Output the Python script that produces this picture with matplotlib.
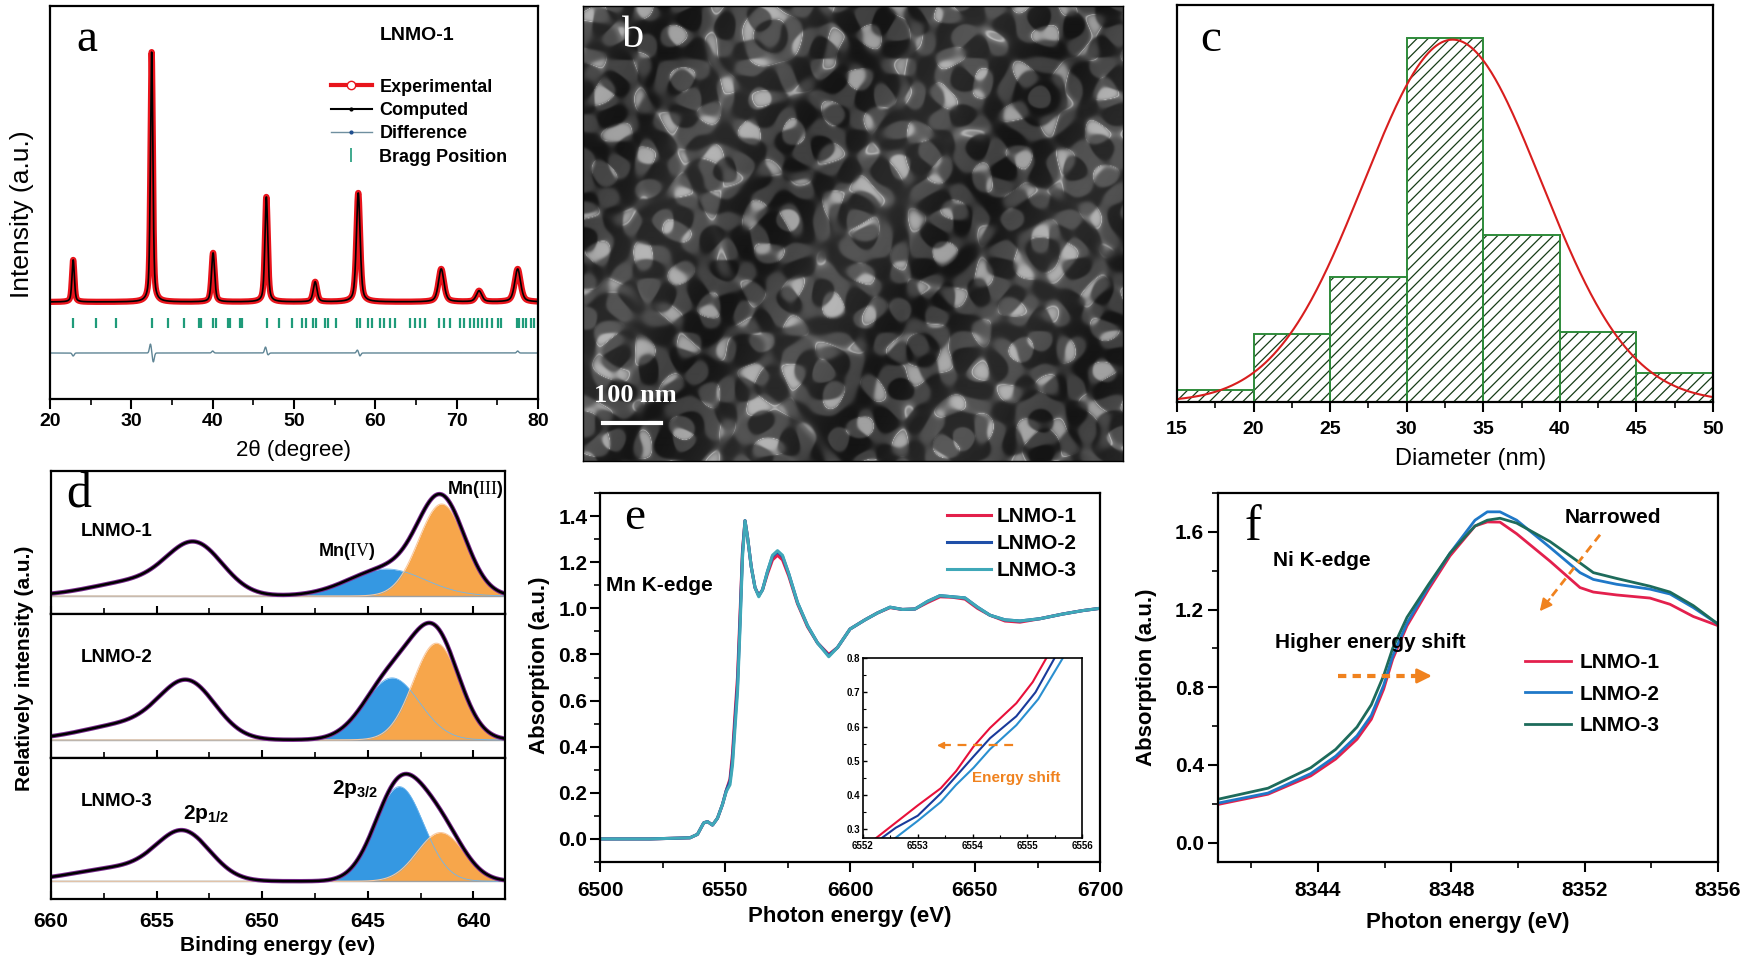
import numpy as np
import matplotlib
matplotlib.use("Agg")
import matplotlib.pyplot as plt
from matplotlib.lines import Line2D
from matplotlib.ticker import MultipleLocator, FormatStrFormatter

plt.rcParams['font.family'] = ['Liberation Sans', 'DejaVu Sans']
plt.rcParams['mathtext.fontset'] = 'custom'
plt.rcParams['mathtext.rm'] = 'Liberation Serif'
plt.rcParams['mathtext.bf'] = 'Liberation Sans:bold'
plt.rcParams['hatch.linewidth'] = 0.9
plt.rcParams['axes.linewidth'] = 1.6

# ---------------- data ----------------
# (a) XRD peaks: position (deg), height, fwhm
xrd_pos = [22.85, 32.5, 40.05, 46.6, 52.6, 57.9, 68.1, 72.75, 77.5]
xrd_height = [42, 250, 49, 105, 20, 109, 33, 11, 33]
xrd_fwhm = [0.35, 0.35, 0.45, 0.42, 0.55, 0.55, 0.8, 0.8, 0.85]
# difference curve features
diff_pos = [22.85, 32.35, 32.7, 40.0, 46.5, 46.8, 57.8, 58.1, 77.5]
diff_amp = [-3, 9, -9, 2, 6, -2, 3, -3, 2]
bragg_pos = [22.87, 25.61, 28.11, 32.49, 34.46, 36.5, 38.35, 38.55, 40.07, 40.39,
             41.91, 42.11, 43.34, 43.63, 46.62, 48.17, 49.77, 51.04, 51.45, 52.35,
             52.76, 53.78, 54.19, 55.22, 57.75, 58.17, 59.11, 59.64, 60.54, 61.03,
             61.85, 62.38, 64.31, 64.84, 65.54, 66.07, 67.83, 68.4, 69.14, 70.37,
             70.86, 71.6, 72.09, 72.62, 73.16, 73.72, 74.38, 75.07, 75.5, 77.4,
             77.7, 78.2, 78.5, 79.1, 79.5]

# (c) particle size histogram
bin_left = [15, 20, 25, 30, 35, 40, 45]
freq = [3.4, 18.7, 34.2, 100, 45.8, 19.2, 7.9]
fit_center, fit_sigma, fit_amp = 33.0, 5.8, 99.5

# (d) XPS Mn 2p components: (center eV, sigma, height)
xps_names = ['LNMO-1', 'LNMO-2', 'LNMO-3']
p12_main = [(653.15, 1.3, 47), (653.5, 1.3, 52), (653.7, 1.25, 45)]
p12_tail = [(655.8, 2.2, 15), (656.2, 2.2, 16), (656.5, 2.3, 14)]
mn4_peak = [(644.1, 1.8, 27), (643.85, 1.3, 61.6), (643.5, 1.15, 96)]
mn3_peak = [(641.5, 1.1, 92), (641.75, 1.1, 96), (641.55, 1.1, 49.4)]

# (e) Mn K-edge XANES
mn_E = [6500, 6520, 6536, 6539, 6541.5, 6543, 6545, 6547, 6549, 6550.5, 6552, 6553,
        6554, 6555, 6556, 6557, 6558, 6559, 6560.5, 6562, 6563.5, 6565, 6567, 6569,
        6571, 6573, 6575.5, 6579, 6583, 6587, 6591.5, 6595, 6600, 6606, 6611, 6616,
        6621, 6626, 6631, 6636, 6641, 6646, 6651, 6656, 6662, 6668, 6676, 6685, 6693, 6700]
mn_mu1 = [0.0, 0.0, 0.005, 0.02, 0.07, 0.075, 0.06, 0.09, 0.15, 0.21, 0.26, 0.37,
          0.54, 0.70, 0.97, 1.25, 1.38, 1.31, 1.18, 1.09, 1.055, 1.08, 1.15, 1.21,
          1.23, 1.21, 1.14, 1.02, 0.92, 0.85, 0.80, 0.83, 0.91, 0.95, 0.98, 1.003,
          0.995, 0.997, 1.025, 1.05, 1.048, 1.04, 1.0, 0.97, 0.945, 0.94, 0.955, 0.975, 0.99, 1.0]
mn_mu2 = [0.0, 0.0, 0.005, 0.02, 0.07, 0.075, 0.06, 0.09, 0.15, 0.21, 0.25, 0.345,
          0.51, 0.665, 0.94, 1.24, 1.38, 1.31, 1.18, 1.09, 1.055, 1.08, 1.16, 1.225,
          1.245, 1.225, 1.15, 1.025, 0.925, 0.85, 0.795, 0.83, 0.91, 0.95, 0.98, 1.005,
          0.995, 0.997, 1.03, 1.055, 1.05, 1.045, 1.005, 0.97, 0.95, 0.945, 0.955, 0.975, 0.99, 1.0]
mn_mu3 = [0.0, 0.0, 0.005, 0.02, 0.07, 0.075, 0.06, 0.09, 0.15, 0.205, 0.235, 0.32,
          0.48, 0.635, 0.91, 1.22, 1.38, 1.31, 1.18, 1.09, 1.05, 1.08, 1.16, 1.23,
          1.25, 1.23, 1.15, 1.025, 0.925, 0.85, 0.79, 0.83, 0.91, 0.95, 0.98, 1.005,
          0.995, 0.997, 1.03, 1.055, 1.05, 1.045, 1.005, 0.97, 0.95, 0.945, 0.955, 0.975, 0.99, 1.0]
# inset
ins_E1 = [6552.2, 6552.6, 6553.0, 6553.42, 6553.7, 6554.02, 6554.32, 6554.8, 6555.1, 6555.35]
ins_mu1 = [0.27, 0.32, 0.37, 0.42, 0.47, 0.542, 0.596, 0.668, 0.73, 0.80]
ins_E2 = [6552.3, 6552.6, 6553.0, 6553.42, 6553.7, 6554.02, 6554.32, 6554.8, 6555.15, 6555.5]
ins_mu2 = [0.27, 0.305, 0.34, 0.405, 0.455, 0.513, 0.566, 0.63, 0.70, 0.80]
ins_E3 = [6552.55, 6553.0, 6553.42, 6553.7, 6554.02, 6554.32, 6554.8, 6555.2, 6555.65]
ins_mu3 = [0.27, 0.325, 0.38, 0.43, 0.48, 0.534, 0.604, 0.68, 0.80]

# (f) Ni K-edge XANES
ni_E = [8341.05, 8342.5, 8343.78, 8344.53, 8345.17, 8345.6, 8345.97, 8346.24, 8346.67,
        8347.32, 8347.96, 8348.71, 8349.08, 8349.46, 8349.96, 8350.96, 8351.86, 8352.26,
        8352.96, 8353.96, 8354.56, 8355.26, 8356.0]
ni_mu1 = [0.198, 0.249, 0.343, 0.43, 0.532, 0.635, 0.79, 0.944, 1.116, 1.305, 1.476, 1.63,
          1.651, 1.65, 1.59, 1.449, 1.313, 1.29, 1.275, 1.259, 1.227, 1.164, 1.117]
ni_mu2 = [0.205, 0.255, 0.355, 0.445, 0.55, 0.655, 0.81, 0.96, 1.13, 1.32, 1.49, 1.66,
          1.703, 1.703, 1.66, 1.52, 1.39, 1.355, 1.33, 1.305, 1.28, 1.21, 1.125]
ni_mu3 = [0.225, 0.28, 0.385, 0.48, 0.595, 0.71, 0.86, 1.0, 1.16, 1.33, 1.49, 1.63,
          1.66, 1.67, 1.645, 1.55, 1.44, 1.39, 1.36, 1.32, 1.29, 1.22, 1.125]

labels = ['LNMO-1', 'LNMO-2', 'LNMO-3']
e_colors = ['#e3204b', '#1f4fa8', '#3fa8b8']
f_colors = ['#e3204d', '#1f78c8', '#1d6b5b']
orange = '#f0821e'

# ---------------- figure ----------------
W, H = 1750, 963
fig = plt.figure(figsize=(17.5, 9.63), dpi=100)


def box(x0, y0, x1, y1):
    return fig.add_axes([x0 / W, 1 - y1 / H, (x1 - x0) / W, (y1 - y0) / H])


def ftext(x, y, s, **kw):
    fig.text(x / W, 1 - y / H, s, **kw)


def gauss(x, c, s, h):
    return h * np.exp(-(x - c) ** 2 / (2 * s ** 2))


serif = 'Liberation Serif'

# ---------------- (a) XRD ----------------
ax_a = box(50, 6, 538, 399)
tt = np.linspace(20, 80, 4001)
calc = np.zeros_like(tt)
for p, h, w in zip(xrd_pos, xrd_height, xrd_fwhm):
    lor = 1 / (1 + (2 * (tt - p) / w) ** 2)
    gau = np.exp(-4 * np.log(2) * (tt - p) ** 2 / w ** 2)
    calc += h * (0.5 * lor + 0.5 * gau)
diff = np.full_like(tt, -51.0)
for p, a in zip(diff_pos, diff_amp):
    diff += gauss(tt, p, 0.12, a)
ax_a.plot(tt, calc, color='#e8141c', lw=4.5, solid_capstyle='round')
ax_a.plot(tt, calc, color='black', lw=1.2)
ax_a.plot(tt, diff, color='#5f8595', lw=1.0)
ax_a.vlines(bragg_pos, -26, -16, color='#1f9b7a', lw=1.6)
ax_a.set_xlim(20, 80)
ax_a.set_ylim(-97, 296)
ax_a.set_yticks([])
ax_a.xaxis.set_major_locator(MultipleLocator(10))
ax_a.xaxis.set_minor_locator(MultipleLocator(5))
ax_a.tick_params(axis='x', which='major', direction='out', length=7, width=1.5, labelsize=14, pad=3)
ax_a.tick_params(axis='x', which='minor', direction='out', length=4, width=1.2)
for t in ax_a.get_xticklabels():
    t.set_fontweight('bold')
ax_a.set_xlabel('2θ (degree)', fontsize=16)
ax_a.xaxis.set_label_coords(0.5, -0.105)
ax_a.set_ylabel('Intensity (a.u.)', fontsize=19)
ax_a.yaxis.set_label_coords(-0.032, 0.47)
handles = [Line2D([], [], color='#e8141c', lw=3, marker='o', ms=6, mfc='white', mec='#e8141c'),
           Line2D([], [], color='black', lw=1.5, marker='.', ms=4),
           Line2D([], [], color='#6f8f9f', lw=1.0, marker='.', ms=4, mec='#1f4f8f', mfc='#1f4f8f'),
           Line2D([], [], color='#1f9b7a', lw=0, marker='|', ms=10, mew=1.2)]
ax_a.legend(handles, ['Experimental', 'Computed', 'Difference', 'Bragg Position'],
            loc='upper left', bbox_to_anchor=(0.575, 0.815), frameon=False,
            prop={'weight': 'bold', 'size': 13}, handlelength=2.3, handletextpad=0.4,
            labelspacing=0.35, borderpad=0, borderaxespad=0)
ftext(76, 40, 'a', family=serif, fontsize=34, ha='left', va='center')
ftext(380, 35, 'LNMO-1', fontsize=14, weight='bold', ha='left', va='center')

# ---------------- (b) TEM micrograph stand-in texture ----------------
ax_b = box(583, 6, 1123, 461)
ny, nx = 455, 540
yy, xx = np.mgrid[0:ny, 0:nx].astype(float)
phases1 = [0.0, 1.1, 2.3, 0.7, 1.9, 2.8, 0.4]
phases2 = [2.1, 0.3, 1.6, 2.9, 0.9, 1.4, 2.5]
q1 = np.zeros_like(xx)
q2 = np.zeros_like(xx)
for k in range(7):
    a1 = k * np.pi / 7
    a2 = k * np.pi / 7 + 0.22
    q1 += np.cos(0.165 * (xx * np.cos(a1) + yy * np.sin(a1)) + phases1[k])
    q2 += np.cos(0.205 * (xx * np.cos(a2) + yy * np.sin(a2)) + phases2[k])
p1 = 1 / (1 + np.exp(-(q1 + 1.3) / 0.35))
p2 = 1 / (1 + np.exp(-(q2 + 0.3) / 0.35))
gap = (1 - p1) * (1 - p2)
img = 0.42 - 0.13 * p1 - 0.11 * p2 - 0.06 * p1 * p2 + 0.25 * gap
img += 0.2 * np.exp(-((q1 + 1.3) / 0.12) ** 2) * (1 - p2)
img += 0.04 * np.cos(xx * 0.031 + yy * 0.017)
img = np.clip(img, 0.06, 1)
ax_b.imshow(img, cmap='gray', vmin=0, vmax=1, aspect='auto', interpolation='bilinear')
ax_b.set_xticks([])
ax_b.set_yticks([])
for s in ax_b.spines.values():
    s.set_linewidth(1.0)
ax_b.plot([0.037, 0.144], [0.0835, 0.0835], color='white', lw=3, transform=ax_b.transAxes)
ftext(622, 36, 'b', family=serif, fontsize=32, color='white', ha='left', va='center')
ftext(594, 395, '100 nm', family=serif, fontsize=19, weight='bold', color='white', ha='left', va='center')

# ---------------- (c) histogram ----------------
ax_c = box(1177, 5, 1713, 402)
ax_c.bar(bin_left, freq, width=5, align='edge', facecolor='white', edgecolor='#173d17',
         hatch='///', lw=0)
ax_c.bar(bin_left, freq, width=5, align='edge', fill=False, edgecolor='#2e8b3a', lw=1.4)
xs = np.linspace(15, 50, 400)
ax_c.plot(xs, gauss(xs, fit_center, fit_sigma, fit_amp), color='#d81e1e', lw=1.5)
ax_c.set_xlim(15, 50)
ax_c.set_ylim(0, 109)
ax_c.set_yticks([])
ax_c.xaxis.set_major_locator(MultipleLocator(5))
ax_c.xaxis.set_minor_locator(MultipleLocator(2.5))
ax_c.tick_params(axis='x', which='major', direction='out', length=7, width=1.5, labelsize=14, pad=7)
ax_c.tick_params(axis='x', which='minor', direction='out', length=4, width=1.2)
for t in ax_c.get_xticklabels():
    t.set_fontweight('bold')
ax_c.set_xlabel('Diameter (nm)', fontsize=17)
ax_c.xaxis.set_label_coords(0.547, -0.115)
ftext(1200, 40, 'c', family=serif, fontsize=34, ha='left', va='center')

# ---------------- (d) XPS ----------------
sub_px = [(471, 614), (614, 758), (758, 899)]
be = np.linspace(638.4, 660, 800)
d_axes = []
for i, (y0, y1) in enumerate(sub_px):
    ax = box(51, y0, 505, y1)
    d_axes.append(ax)
    m12 = gauss(be, *p12_main[i]) + gauss(be, *p12_tail[i])
    c4 = gauss(be, *mn4_peak[i])
    c3 = gauss(be, *mn3_peak[i])
    env = m12 + c4 + c3
    ax.axhline(0, color='#a0a0a0', lw=1.0)
    ax.fill_between(be, 0, c4, color='#3598e2', lw=0)
    ax.plot(be, c4, color='#6fb6ee', lw=0.6)
    ax.fill_between(be, 0, c3, color='#f7a64b', lw=0)
    ax.plot(be, c3, color='#f9c9a0', lw=0.8)
    ax.plot(be, env, color='#7a2a8e', lw=3.2)
    ax.plot(be, env, color='black', lw=1.8)
    ax.set_xlim(660, 638.5)
    ax.set_ylim(-18, 125)
    ax.set_yticks([])
    ax.xaxis.set_major_locator(MultipleLocator(5))
    ax.xaxis.set_minor_locator(MultipleLocator(2.5))
    ax.tick_params(axis='x', which='major', direction='in', length=6, width=1.5, labelsize=15, pad=9)
    ax.tick_params(axis='x', which='minor', direction='in', length=4, width=1.2)
    if i < 2:
        ax.tick_params(axis='x', labelbottom=False)
    ax.text(658.6, [65, 82, 81][i], xps_names[i], fontsize=13.5, weight='bold', ha='left', va='center')
for t in d_axes[2].get_xticklabels():
    t.set_fontweight('bold')
d_axes[0].text(647.35, 44, r'Mn($\mathrm{IV}$)', fontsize=13, weight='bold', ha='left', va='center')
d_axes[0].text(638.6, 106, r'Mn($\mathrm{III}$)', fontsize=13, weight='bold', ha='right', va='center')
d_axes[2].text(653.75, 68, r'2p$_{\mathbf{1/2}}$', fontsize=15, weight='bold', ha='left', va='center')
d_axes[2].text(646.7, 94, r'2p$_{\mathbf{3/2}}$', fontsize=15, weight='bold', ha='left', va='center')
d_axes[2].set_xlabel('Binding energy (ev)', fontsize=15, weight='bold')
d_axes[2].xaxis.set_label_coords(0.5, -0.265)
d_axes[1].set_ylabel('Relatively intensity (a.u.)', fontsize=15, weight='bold')
d_axes[1].yaxis.set_label_coords(-0.037, 0.62)
ftext(66, 495, 'd', family=serif, fontsize=36, ha='left', va='center')

# ---------------- (e) Mn K-edge ----------------
ax_e = box(600, 493, 1100, 862)
for mu, c, lab in zip([mn_mu1, mn_mu2, mn_mu3], e_colors, labels):
    ax_e.plot(mn_E, mu, color=c, lw=2.2, label=lab)
ax_e.set_xlim(6500, 6700)
ax_e.set_ylim(-0.1, 1.5)
ax_e.xaxis.set_major_locator(MultipleLocator(50))
ax_e.xaxis.set_minor_locator(MultipleLocator(25))
ax_e.yaxis.set_major_locator(MultipleLocator(0.2))
ax_e.yaxis.set_minor_locator(MultipleLocator(0.1))
ax_e.yaxis.set_major_formatter(FormatStrFormatter('%.1f'))
ax_e.tick_params(which='major', direction='out', length=7, width=1.5, labelsize=15)
ax_e.tick_params(which='minor', direction='out', length=4, width=1.2)
ax_e.tick_params(axis='x', pad=7)
ax_e.tick_params(axis='y', pad=2)
for t in ax_e.get_xticklabels() + ax_e.get_yticklabels():
    t.set_fontweight('bold')
ax_e.set_xlabel('Photon energy (eV)', fontsize=16, weight='bold')
ax_e.xaxis.set_label_coords(0.5, -0.12)
ax_e.set_ylabel('Absorption (a.u.)', fontsize=16, weight='bold')
ax_e.yaxis.set_label_coords(-0.1, 0.534)
ax_e.legend(loc='upper left', bbox_to_anchor=(0.694, 0.962), frameon=False,
            prop={'weight': 'bold', 'size': 15}, handlelength=2.1, handletextpad=0.3,
            labelspacing=0.38, borderpad=0, borderaxespad=0)
ax_e.text(6502.5, 1.10, 'Mn K-edge', fontsize=15, weight='bold', ha='left', va='center')
ftext(624, 518, 'e', family=serif, fontsize=34, ha='left', va='center')

ax_in = box(863, 658, 1082, 838)
for ex, mu, c in zip([ins_E1, ins_E2, ins_E3], [ins_mu1, ins_mu2, ins_mu3],
                     ['#e8103a', '#1a3a9a', '#2a8fd0']):
    ax_in.plot(ex, mu, color=c, lw=1.5)
ax_in.set_xlim(6552, 6556)
ax_in.set_ylim(0.275, 0.8)
ax_in.xaxis.set_major_locator(MultipleLocator(1))
ax_in.xaxis.set_minor_locator(MultipleLocator(0.5))
ax_in.yaxis.set_major_locator(MultipleLocator(0.1))
ax_in.yaxis.set_minor_locator(MultipleLocator(0.05))
ax_in.yaxis.set_major_formatter(FormatStrFormatter('%.1f'))
ax_in.tick_params(which='major', direction='in', length=3, width=1, labelsize=7, pad=2)
ax_in.tick_params(which='minor', direction='in', length=2, width=0.8)
for t in ax_in.get_xticklabels() + ax_in.get_yticklabels():
    t.set_fontweight('bold')
for s in ax_in.spines.values():
    s.set_linewidth(1.2)
ax_in.plot([6553.45, 6554.85], [0.545, 0.545], ls=(0, (4, 3)), color=orange, lw=1.6)
ax_in.annotate('', xy=(6553.3, 0.545), xytext=(6553.5, 0.545),
               arrowprops=dict(arrowstyle='-|>', color=orange, lw=1.2, mutation_scale=10))
ax_in.text(6554.0, 0.45, 'Energy shift', color=orange, fontsize=11, weight='bold', ha='left', va='center')

# ---------------- (f) Ni K-edge ----------------
ax_f = box(1218, 493, 1718, 862)
for mu, c, lab in zip([ni_mu1, ni_mu2, ni_mu3], f_colors, labels):
    ax_f.plot(ni_E, mu, color=c, lw=2.0, label=lab)
ax_f.set_xlim(8341, 8356)
ax_f.set_ylim(-0.1, 1.8)
ax_f.xaxis.set_major_locator(MultipleLocator(4))
ax_f.xaxis.set_minor_locator(MultipleLocator(2))
ax_f.yaxis.set_major_locator(MultipleLocator(0.4))
ax_f.yaxis.set_minor_locator(MultipleLocator(0.2))
ax_f.yaxis.set_major_formatter(FormatStrFormatter('%.1f'))
ax_f.tick_params(which='major', direction='out', length=7, width=1.5, labelsize=15)
ax_f.tick_params(which='minor', direction='out', length=4, width=1.2)
ax_f.tick_params(axis='x', pad=7)
ax_f.tick_params(axis='y', pad=3)
for t in ax_f.get_xticklabels() + ax_f.get_yticklabels():
    t.set_fontweight('bold')
ax_f.set_xlabel('Photon energy (eV)', fontsize=16, weight='bold')
ax_f.xaxis.set_label_coords(0.5, -0.135)
ax_f.set_ylabel('Absorption (a.u.)', fontsize=16, weight='bold')
ax_f.yaxis.set_label_coords(-0.122, 0.5)
ax_f.legend(loc='upper left', bbox_to_anchor=(0.614, 0.566), frameon=False,
            prop={'weight': 'bold', 'size': 15}, handlelength=2.2, handletextpad=0.4,
            labelspacing=0.6, borderpad=0, borderaxespad=0)
ax_f.text(8342.65, 1.45, 'Ni K-edge', fontsize=15, weight='bold', ha='left', va='center')
ax_f.text(8342.7, 1.03, 'Higher energy shift', fontsize=15, weight='bold', ha='left', va='center')
ax_f.text(8351.4, 1.676, 'Narrowed', fontsize=15, weight='bold', ha='left', va='center')
ax_f.plot([8344.6, 8347.0], [0.858, 0.858], ls=(0, (2, 1.5)), color=orange, lw=3)
ax_f.annotate('', xy=(8347.5, 0.858), xytext=(8346.9, 0.858),
              arrowprops=dict(arrowstyle='-|>', color=orange, lw=2, mutation_scale=22))
ax_f.plot([8352.46, 8350.95], [1.585, 1.255], ls=(0, (3, 2)), color=orange, lw=2)
ax_f.annotate('', xy=(8350.6, 1.18), xytext=(8351.0, 1.265),
              arrowprops=dict(arrowstyle='-|>', color=orange, lw=1.5, mutation_scale=18))
ftext(1244, 528, 'f', family=serif, fontsize=36, ha='left', va='center')

fig.savefig('out.png', dpi=100)
